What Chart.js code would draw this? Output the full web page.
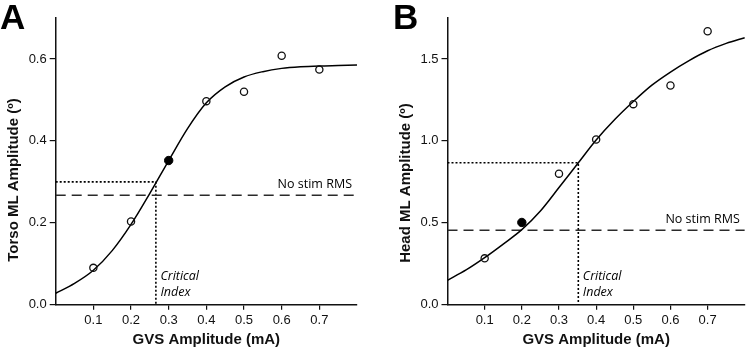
<!DOCTYPE html>
<html><head><meta charset="utf-8">
<script src="https://cdn.jsdelivr.net/npm/chart.js@4/dist/chart.umd.min.js"></script>
<style>
html,body{margin:0;padding:0;background:#fff;}
#wrap{position:relative;width:750px;height:349px;overflow:hidden;}
canvas{position:absolute;top:0;}
</style></head><body>
<div id="wrap"><canvas id="cA" width="375" height="349" style="left:0"></canvas><canvas id="cB" width="375" height="349" style="left:375px"></canvas></div>
<script>
// ---- data ----
const gvsDoses = [0.1, 0.2, 0.3, 0.4, 0.5, 0.6, 0.7];
const xTicks = [0.1, 0.2, 0.3, 0.4, 0.5, 0.6, 0.7];

// Panel A: torso
const torsoAmp = [0.090, 0.203, 0.352, 0.497, 0.520, 0.608, 0.574];
const torsoFilledDose = 0.3;
const torsoFitX = [0, 0.05, 0.1, 0.15, 0.2, 0.25, 0.3, 0.35, 0.4, 0.45, 0.5, 0.55, 0.6, 0.65, 0.7, 0.75, 0.8];
const torsoFitY = [0.028, 0.052, 0.084, 0.132, 0.196, 0.272, 0.352, 0.430, 0.493, 0.532, 0.556, 0.569, 0.577, 0.581, 0.583, 0.584, 0.585];
const torsoNoStim = 0.267;
const torsoCritX = 0.266, torsoCritY = 0.300;
const torsoYTicks = [0, 0.2, 0.4, 0.6];

// Panel B: head
const headAmp = [0.283, 0.502, 0.800, 1.008, 1.224, 1.338, 1.669];
const headFilledDose = 0.2;
const headFitX = [0, 0.05, 0.1, 0.15, 0.2, 0.25, 0.3, 0.35, 0.4, 0.45, 0.5, 0.55, 0.6, 0.65, 0.7, 0.75, 0.8];
const headFitY = [0.149, 0.212, 0.287, 0.370, 0.458, 0.572, 0.715, 0.860, 1.005, 1.130, 1.240, 1.340, 1.420, 1.490, 1.550, 1.595, 1.630];
const headNoStim = 0.454;
const headCritX = 0.352, headCritY = 0.866;
const headYTicks = [0, 0.5, 1.0, 1.5];

// ---- helpers ----
const pts = (xs, ys) => xs.map((x, i) => ({x: x, y: ys[i]}));
const INK = '#111';

const extraText = {
  id: 'extraText',
  afterDraw(chart, args, o) {
    const ctx = chart.ctx, xs = chart.scales.x, ys = chart.scales.y, ca = chart.chartArea;
    ctx.save();
    ctx.fillStyle = '#000';
    ctx.font = 'bold 35px "Liberation Sans", Arial, sans-serif';
    ctx.textAlign = 'left'; ctx.textBaseline = 'alphabetic';
    ctx.fillText(o.letter, o.letterX, 29);
    ctx.save();
    ctx.translate(o.yTitleX, o.yTitleY);
    ctx.rotate(-Math.PI / 2);
    ctx.font = 'bold 15px "Liberation Sans", Arial, sans-serif';
    ctx.textAlign = 'center'; ctx.textBaseline = 'middle';
    ctx.fillStyle = INK;
    ctx.fillText(o.yTitle, 0, 0);
    ctx.restore();
    ctx.fillStyle = '#000';
    ctx.font = '500 12.5px "Open Sans", sans-serif';
    ctx.textAlign = 'right'; ctx.textBaseline = 'middle';
    ctx.fillText('No stim RMS', ca.right - 5, ys.getPixelForValue(o.noStim) - 10.5);
    ctx.font = 'italic 500 12.5px "Open Sans", sans-serif';
    ctx.textAlign = 'left';
    const cx = xs.getPixelForValue(o.critX) + 4.5;
    ctx.fillText('Critical', cx, ca.bottom - 28);
    ctx.fillText('Index', cx, ca.bottom - 12.5);
    ctx.restore();
  }
};

function makeChart(id, cfg) {
  const open = [], filled = [];
  cfg.doses.forEach((d, i) => {
    (Math.abs(d - cfg.filledDose) < 1e-9 ? filled : open).push({x: d, y: cfg.amp[i]});
  });
  return new Chart(document.getElementById(id), {
    type: 'scatter',
    data: {
      datasets: [
        {data: open, showLine: false, pointRadius: 3.6, pointHoverRadius: 3.6,
         pointBackgroundColor: 'rgba(0,0,0,0)', pointBorderColor: INK, pointBorderWidth: 1.3},
        {data: filled, showLine: false, pointRadius: 4.2, pointHoverRadius: 4.2,
         pointBackgroundColor: '#000', pointBorderColor: '#000', pointBorderWidth: 1},
        {data: pts(cfg.fitX, cfg.fitY), showLine: true, pointRadius: 0, borderColor: '#000',
         borderWidth: 1.5, cubicInterpolationMode: 'monotone', fill: false},
        {data: [{x: 0, y: cfg.noStim}, {x: 0.8, y: cfg.noStim}], showLine: true, pointRadius: 0,
         borderColor: '#2a2a2a', borderWidth: 1.5, borderDash: [10, 6], fill: false},
        {data: [{x: 0, y: cfg.critY}, {x: cfg.critX, y: cfg.critY}, {x: cfg.critX, y: 0}], showLine: true,
         pointRadius: 0, borderColor: '#000', borderWidth: 1.6, borderDash: [2, 2], fill: false}
      ]
    },
    options: {
      responsive: false, animation: false, devicePixelRatio: 1,
      layout: {padding: {left: 0, right: cfg.padRight, top: 18, bottom: 0}},
      plugins: {legend: {display: false}, tooltip: {enabled: false},
        extraText: {letter: cfg.letter, letterX: cfg.letterX, yTitle: cfg.yTitle,
          yTitleX: cfg.yTitleX, yTitleY: cfg.yTitleY, noStim: cfg.noStim, critX: cfg.critX}},
      scales: {
        x: {type: 'linear', min: 0, max: 0.8,
          afterBuildTicks: s => { s.ticks = xTicks.map(v => ({value: v})); },
          afterFit: s => { s.height = 44.3; },
          border: {color: INK, width: 1.5},
          grid: {drawOnChartArea: false, drawTicks: true, tickLength: 5, color: INK, lineWidth: 1.2},
          ticks: {padding: 3, color: INK, font: {family: '"Liberation Sans", Arial, sans-serif', size: 13},
            maxRotation: 0, callback: v => v.toFixed(1)},
          title: {display: true, text: 'GVS Amplitude (mA)', color: INK,
            font: {family: '"Liberation Sans", Arial, sans-serif', size: 15, weight: 'bold'},
            padding: {top: 0, bottom: 0}}
        },
        y: {type: 'linear', min: 0, max: cfg.yMax,
          afterBuildTicks: s => { s.ticks = cfg.yTicks.map(v => ({value: v})); },
          afterFit: s => { s.width = cfg.yWidth; },
          border: {color: INK, width: 1.5},
          grid: {drawOnChartArea: false, drawTicks: true, tickLength: 6, color: INK, lineWidth: 1.2},
          ticks: {padding: 3, color: INK, font: {family: '"Liberation Sans", Arial, sans-serif', size: 13},
            callback: v => v.toFixed(1)}
        }
      }
    },
    plugins: [extraText]
  });
}

makeChart('cA', {doses: gvsDoses, amp: torsoAmp, filledDose: torsoFilledDose, fitX: torsoFitX, fitY: torsoFitY,
  noStim: torsoNoStim, critX: torsoCritX, critY: torsoCritY, yTicks: torsoYTicks, yMax: 0.7,
  yWidth: 55.7, padRight: 18, letter: 'A', letterX: 0, yTitle: 'Torso ML Amplitude (º)', yTitleX: 13.5, yTitleY: 180});
makeChart('cB', {doses: gvsDoses, amp: headAmp, filledDose: headFilledDose, fitX: headFitX, fitY: headFitY,
  noStim: headNoStim, critX: headCritX, critY: headCritY, yTicks: headYTicks, yMax: 1.75,
  yWidth: 72.5, padRight: 0, letter: 'B', letterX: 18, yTitle: 'Head ML Amplitude (º)', yTitleX: 31, yTitleY: 183});
</script>
</body></html>
